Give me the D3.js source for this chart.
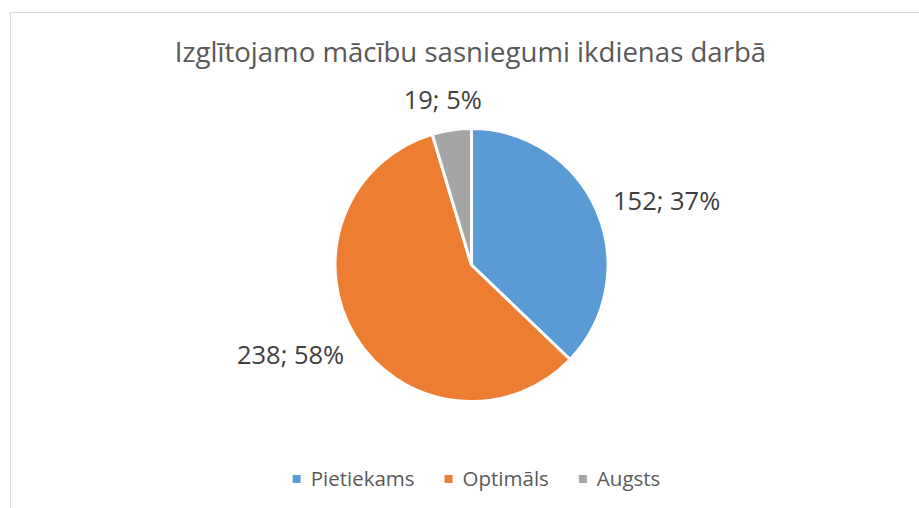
<!DOCTYPE html>
<html>
<head>
<meta charset="utf-8">
<script src="https://cdn.jsdelivr.net/npm/d3@7"></script>
<style>
  body { margin:0; background:#fff; }
  svg text { font-family:"Open Sans", sans-serif; }
</style>
</head>
<body>
<div id="plot"></div>
<script>
// chart data
var titleText = 'Izglītojamo mācību sasniegumi ikdienas darbā';
var categories = ['Pietiekams', 'Optimāls', 'Augsts'];
var counts = [152, 238, 19];
var percents = [37, 58, 5];
var colors = ['#5B9BD5', '#ED7D31', '#A5A5A5'];

var width = 919, height = 508;
var cx = 471.5, cy = 265, radius = 136.5;

var svg = d3.select('#plot')
	.append('svg')
	.attr('width', width)
	.attr('height', height);

// chart area border (runs off the right and bottom edge)
svg.append('rect')
	.attr('x', 10.5)
	.attr('y', 12.5)
	.attr('width', 1000)
	.attr('height', 1000)
	.style('fill', 'none')
	.style('stroke', '#d9d9d9')
	.style('stroke-width', 1);

svg.append('text')
	.attr('x', 470.5)
	.attr('y', 62)
	.attr('text-anchor', 'middle')
	.style('font-size', '27.6px')
	.style('fill', '#595959')
	.text(titleText);

var data = categories.map(function(c, i){
	return {name: c, value: counts[i], pct: percents[i], color: colors[i]};
});

var pie = d3.pie().sort(null).value(function(d){ return d.value; });
var arc = d3.arc().innerRadius(0).outerRadius(radius);
var arcs = pie(data);

var plot = svg.append('g')
	.attr('transform', 'translate(' + cx + ',' + cy + ')');

plot.selectAll('path')
	.data(arcs)
	.enter()
	.append('path')
	.attr('d', arc)
	.style('fill', function(d){ return d.data.color; })
	.style('stroke', '#fff')
	.style('stroke-width', 3);

// labels outside the pie
var gap = 22;
plot.selectAll('text.lbl')
	.data(arcs)
	.enter()
	.append('text')
	.attr('class', 'lbl')
	.style('font-size', '25.5px')
	.style('fill', '#404040')
	.attr('text-anchor', 'middle')
	.text(function(d){ return d.data.value + '; ' + d.data.pct + '%'; })
	.each(function(d){
		var a = (d.startAngle + d.endAngle) / 2;
		var bb = this.getBBox();
		var h = bb.height * 0.6;
		var px = Math.sin(a) * (radius + gap), py = -Math.cos(a) * (radius + gap);
		var x = px + Math.sin(a) * bb.width / 2;
		var y = py - Math.cos(a) * h / 2;
		d3.select(this).attr('x', x).attr('y', y + bb.height * 0.33);
	});

// legend
var legend = svg.append('g');
var items = legend.selectAll('g')
	.data(data)
	.enter()
	.append('g');

items.append('rect')
	.attr('width', 8)
	.attr('height', 8)
	.attr('y', -11)
	.style('fill', function(d){ return d.color; });

items.append('text')
	.attr('x', 18)
	.style('font-size', '20.5px')
	.style('fill', '#595959')
	.text(function(d){ return d.name; });

var xpos = 0;
items.each(function(){
	var w = this.getBBox().width;
	d3.select(this).attr('transform', 'translate(' + xpos + ',0)');
	xpos += w + 30;
});
var total = xpos - 30;
legend.attr('transform', 'translate(' + (476.5 - total / 2) + ',486)');
</script>
</body>
</html>
